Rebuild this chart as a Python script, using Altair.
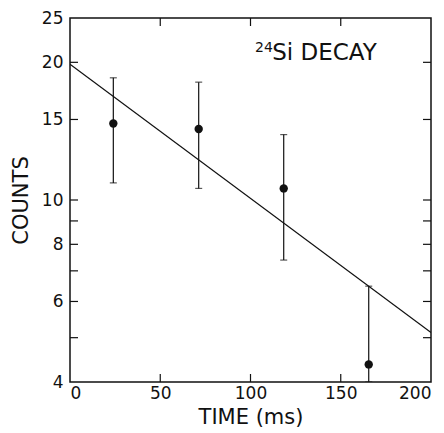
import altair as alt
import pandas as pd

# ---- data ----
time_ms = [24.0, 71.3, 118.4, 165.5]
counts = [14.7, 14.3, 10.6, 4.37]
err_hi = [18.5, 18.1, 13.9, 6.48]
err_lo = [10.9, 10.6, 7.39, 4.0]
fit_time = [0, 200]
fit_counts = [19.8, 5.13]
y_labels = [4, 6, 8, 10, 15, 20, 25]
y_minor = [5, 6, 7, 8, 9, 10, 15, 20]
x_labels = [0, 50, 100, 150, 200]
x_minor = [50, 100, 150]
ann_text = ["24", "Si DECAY"]
ann_x = [102.5, 112.0]
ann_y = [21.1, 20.2]
ann_size = [14, 23]

W, H = 361, 364
INK = "#111111"
FONT = "DejaVu Sans"

df = pd.DataFrame({"t": time_ms, "c": counts, "hi": err_hi, "lo": err_lo})
fit = pd.DataFrame({"t": fit_time, "c": fit_counts})
ytk = pd.DataFrame({"v": y_minor})
xtk = pd.DataFrame({"v": x_minor})
ann = pd.DataFrame({"txt": ann_text, "x": ann_x, "y": ann_y, "s": ann_size})

xs = alt.Scale(domain=[0, 200], nice=False, zero=False)
ys = alt.Scale(type="log", domain=[4, 25], nice=False, zero=False)

x_axis = alt.Axis(values=x_labels, title="TIME (ms)", grid=False, domain=False,
                  ticks=False, tickSize=0, labelPadding=3, labelFontSize=17,
                  titleFontSize=21, titleFontWeight="normal", titlePadding=5,
                  labelColor=INK, titleColor=INK, labelFont=FONT, titleFont=FONT)
y_axis = alt.Axis(values=y_labels, title="COUNTS", grid=False, domain=False,
                  ticks=False, tickSize=0, labelPadding=7, labelFontSize=17,
                  titleFontSize=21, titleFontWeight="normal", titlePadding=10,
                  labelColor=INK, titleColor=INK, labelFont=FONT, titleFont=FONT,
                  labelOverlap=False)


def X(f):
    return alt.X(f, scale=xs, axis=x_axis)


def Y(f):
    return alt.Y(f, scale=ys, axis=y_axis)


bars = alt.Chart(df).mark_rule(color=INK, strokeWidth=1.2, clip=True).encode(
    x=X("t:Q"), y=Y("lo:Q"), y2="hi:Q")
cap_hi = alt.Chart(df).mark_tick(color=INK, orient="horizontal", size=7, thickness=1.2).encode(
    x=X("t:Q"), y=Y("hi:Q"))
cap_lo = alt.Chart(df).mark_tick(color=INK, orient="horizontal", size=7, thickness=1.2, clip=True).encode(
    x=X("t:Q"), y=Y("lo:Q"))
dots = alt.Chart(df).mark_circle(color=INK, opacity=1, size=70).encode(
    x=X("t:Q"), y=Y("c:Q"))
line = alt.Chart(fit).mark_line(color=INK, strokeWidth=1.2, clip=True).encode(
    x=X("t:Q"), y=Y("c:Q"))

tl = alt.Chart(ytk).mark_rule(color=INK, strokeWidth=1.2).encode(
    y=Y("v:Q"), x=alt.value(0), x2=alt.value(8))
tr = alt.Chart(ytk).mark_rule(color=INK, strokeWidth=1.2).encode(
    y=Y("v:Q"), x=alt.value(W - 8), x2=alt.value(W))
tb = alt.Chart(xtk).mark_rule(color=INK, strokeWidth=1.2).encode(
    x=X("v:Q"), y=alt.value(H - 8), y2=alt.value(H))
tt = alt.Chart(xtk).mark_rule(color=INK, strokeWidth=1.2).encode(
    x=X("v:Q"), y=alt.value(0), y2=alt.value(8))

label = alt.Chart(ann).mark_text(color=INK, font=FONT, align="left", baseline="alphabetic").encode(
    x=X("x:Q"), y=Y("y:Q"),
    text="txt:N", size=alt.Size("s:Q", scale=None, legend=None))

chart = alt.layer(bars, cap_hi, cap_lo, line, dots, tl, tr, tb, tt, label).properties(
    width=W, height=H,
    autosize=alt.AutoSizeParams(type="none"),
    padding={"left": 62, "top": 10, "right": 5, "bottom": 50},
    background="white",
).configure_view(stroke=INK, strokeWidth=1.5)

chart.save("out.html", embed_options={"renderer": "svg", "actions": False})
